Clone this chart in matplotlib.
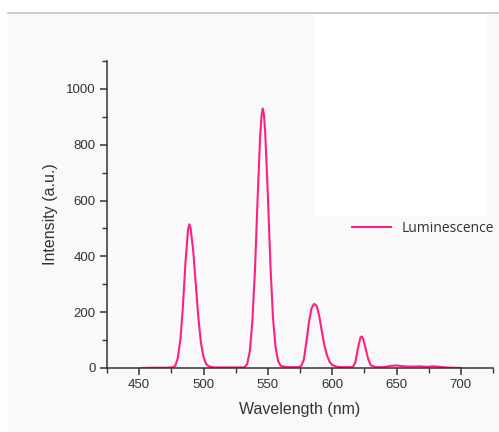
import matplotlib
matplotlib.use("Agg")
import matplotlib.pyplot as plt
from matplotlib.patches import Rectangle
from matplotlib.lines import Line2D
from matplotlib.ticker import MultipleLocator

plt.rcParams["font.family"] = ["Liberation Sans", "DejaVu Sans"]

# spectrum (nm, a.u.)
wavelength = [452, 460, 470, 476, 478, 480, 482, 484, 486, 488, 489, 490, 492,
              494, 496, 498, 500, 502, 504, 508, 515, 525, 530, 532, 534, 536,
              538, 540, 542, 544, 545, 546, 547, 548, 550, 552, 554, 556, 558,
              560, 564, 568, 572, 574, 576, 578, 580, 582, 584, 586, 588, 590,
              592, 594, 596, 598, 600, 604, 608, 612, 616, 618, 620, 622, 623,
              624, 626, 628, 630, 634, 640, 646, 650, 656, 662, 668, 674, 678,
              682, 688, 694, 700]
intensity = [0, 1, 1, 2, 8, 35, 100, 220, 380, 495, 515, 500, 420,
             300, 180, 90, 40, 15, 6, 2, 2, 2, 2, 3, 15, 60,
             170, 350, 600, 830, 900, 930, 905, 840, 620, 370, 180, 75, 25,
             8, 3, 3, 3, 3, 8, 30, 95, 165, 215, 230, 222, 185,
             130, 80, 45, 22, 11, 4, 3, 3, 3, 20, 70, 110, 113,
             105, 70, 32, 10, 3, 3, 8, 9, 6, 5, 6, 4, 6,
             5, 2, 1, 0]

W, H = 499, 432
fig = plt.figure(figsize=(W / 100, H / 100), dpi=100, facecolor="white")

# screenshot backdrop
fig.patches.append(Rectangle((8 / W, 0), 1 - 8 / W, (H - 12) / H,
                             transform=fig.transFigure, color="#f9f9f9", zorder=-3))
fig.patches.append(Rectangle((315 / W, (H - 215) / H), 170 / W, 203 / H,
                             transform=fig.transFigure, color="#ffffff", zorder=-2))
fig.lines.append(Line2D([8 / W, 1], [(H - 12.5) / H] * 2, transform=fig.transFigure,
                        color="#c4c4c4", lw=1.2))

ax = fig.add_axes([107 / W, (H - 368) / H, (493 - 107) / W, (368 - 61) / H])
ax.patch.set_visible(False)

ax.plot(wavelength, intensity, color="#ff1f80", lw=1.5, label="Luminescence")

ax.set_xlim(425, 725)
ax.set_ylim(0, 1100)
ax.xaxis.set_major_locator(MultipleLocator(50))
ax.xaxis.set_minor_locator(MultipleLocator(25))
ax.yaxis.set_major_locator(MultipleLocator(200))
ax.yaxis.set_minor_locator(MultipleLocator(100))
ax.set_xticks([450, 500, 550, 600, 650, 700])

for s in ["top", "right"]:
    ax.spines[s].set_visible(False)
for s in ["left", "bottom"]:
    ax.spines[s].set_color("#333333")
    ax.spines[s].set_linewidth(1.1)

ax.tick_params(which="major", direction="out", length=5, width=1.1,
               color="#333333", labelsize=9.5, labelcolor="#333333", pad=3)
ax.tick_params(which="minor", direction="out", length=3.5, width=1.0, color="#333333")

ax.set_xlabel("Wavelength (nm)", fontsize=11.5, color="#333333", labelpad=8)
ax.set_ylabel("Intensity (a.u.)", fontsize=11.5, color="#333333", labelpad=6)

leg = ax.legend(loc="center left", bbox_to_anchor=(352 / W, (H - 228) / H),
                bbox_transform=fig.transFigure, borderaxespad=0, borderpad=0,
                frameon=False, handlelength=2.8, handletextpad=0.75,
                prop={"family": "Open Sans", "size": 10})
for t in leg.get_texts():
    t.set_color("#333333")

fig.savefig("out.png", dpi=100, facecolor=fig.get_facecolor())
